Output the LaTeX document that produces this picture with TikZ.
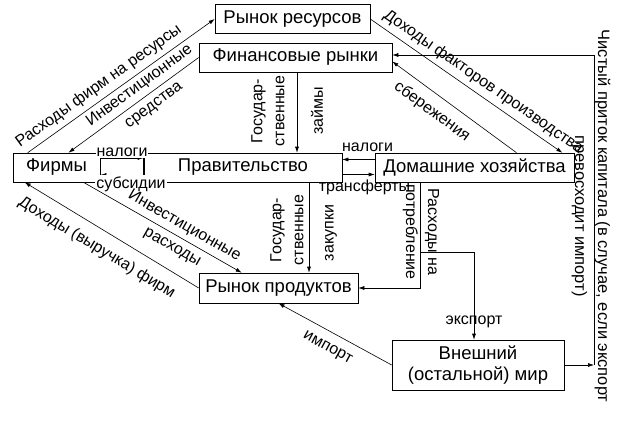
\documentclass[tikz,border=0pt]{standalone}
\usepackage{fontspec}
\setmainfont{Liberation Sans}
\usetikzlibrary{calc,arrows.meta}

\begin{document}
\begin{tikzpicture}[x=1pt,y=-1pt,>={Latex[length=6pt,width=4pt]},line width=0.6pt,
  box/.style={draw,inner sep=0pt,minimum height=29pt,font=\fontsize{18.5}{21}\selectfont},
  lbl/.style={font=\fontsize{16}{19}\selectfont,inner sep=1pt},
  two/.style={lbl,align=center,font=\fontsize{16}{22}\selectfont}]
\useasboundingbox (0,0) rectangle (624,421);
\node[box,minimum width=155pt] (res) at (292.5,19) {Рынок ресурсов};
\node[box,minimum width=193pt] (fin) at (295.5,57.5) {Финансовые рынки};
\node[box,minimum width=87pt] (firms) at (56.5,167.5) {Фирмы};
\node[box,minimum width=198pt] (gov) at (243,167.5) {Правительство};
\node[box,minimum width=199pt] (hh) at (474.5,167.5) {Домашние хозяйства};
\node[box,minimum width=159pt,minimum height=30pt] (prod) at (278.5,288) {Рынок продуктов};
\node[box,minimum width=172pt,minimum height=50pt,align=center] (world) at (478,365) {Внешний\\(остальной) мир};
\draw (firms.north east) rectangle (gov.south west);
\coordinate (cap) at (594,365);
\coordinate (captop) at (594,55);
\coordinate (exp) at (420.5,252);

\draw[->] ($(firms.north west)+(15,0)$) to node[lbl,sloped,above=4pt,pos=0.42] {Расходы фирм на ресурсы} (res.west);
\draw[->] (fin.west) to node[two,sloped,pos=0.4,font=\fontsize{16}{24}\selectfont] {Инвестиционные\\средства} ($(firms.north)+(12,0)$);
\draw[->] (res.east) to node[lbl,sloped,above=4pt,pos=0.55] {Доходы факторов производства} ($(hh.north east)+(-12,0)$);
\draw[->] ($(hh.north)+(42,0)$) to node[lbl,sloped,below=8pt,pos=0.6] {сбережения} ($(fin.east)+(0,4)$);
\draw[->] (world.east) -- (cap);
\draw[->] (cap) -- (captop) -- (fin.east |- captop);
\node[two,rotate=-90,font=\fontsize{16.5}{23}\selectfont] (caplbl) at (591,216) {Чистый приток капитала (в случае, если экспорт\\превосходит импорт)};
\draw[->] ($(fin.south)+(1.5,0)$) -- ($(gov.north)+(54,0)$);
\node[two,rotate=90] (loanl) at (268,111) {Государ-\\ственные};
\node[lbl,rotate=90] (loanr) at (317,111) {займы};
\draw[->] ($(hh.west)+(0,-8)$) -- node[lbl,above=7pt,xshift=9pt] {налоги} ($(gov.east)+(0,-8)$);
\draw[->] ($(gov.east)+(0,7)$) -- node[lbl,below=4pt,xshift=6pt] {трансферты} ($(hh.west)+(0,7)$);
\draw[->] ($(firms.east)+(0,-9.5)$) -- node[lbl,fill=white,above=0pt] {налоги} ($(gov.west)+(0,-9.5)$);
\draw[->] ($(gov.west)+(0,7.5)$) -- node[lbl,fill=white,below=0pt,xshift=9pt] {субсидии} ($(firms.east)+(0,7.5)$);
\draw[->] ($(firms.south)+(27,0)$) to node[two,sloped,pos=0.6,font=\fontsize{16}{24}\selectfont] {Инвестиционные\\расходы} ($(prod.north west)+(43,0)$);
\draw[->] (prod.west) to node[lbl,sloped,below=10pt,pos=0.53] {Доходы (выручка) фирм} ($(firms.south west)+(12,0)$);
\draw[->] ($(gov.south)+(66,0)$) -- ($(prod.north)+(30.5,0)$);
\node[two,rotate=90] (buyl) at (287,230) {Государ-\\ственные};
\node[lbl,rotate=90] (buyr) at (331,233) {закупки};
\draw[->] ($(hh.south)+(-54,0)$) |- (prod.east);
\node[two,rotate=-90] (consl) at (421,232) {Расходы на\\потребление};
\draw[->] (exp) -| node[lbl,pos=0.9] {экспорт} ($(world.north)+(-4,0)$);
\draw[->] (world.west) to node[lbl,sloped,below=9pt,pos=0.5] {импорт} (prod.south);
\end{tikzpicture}
\end{document}
